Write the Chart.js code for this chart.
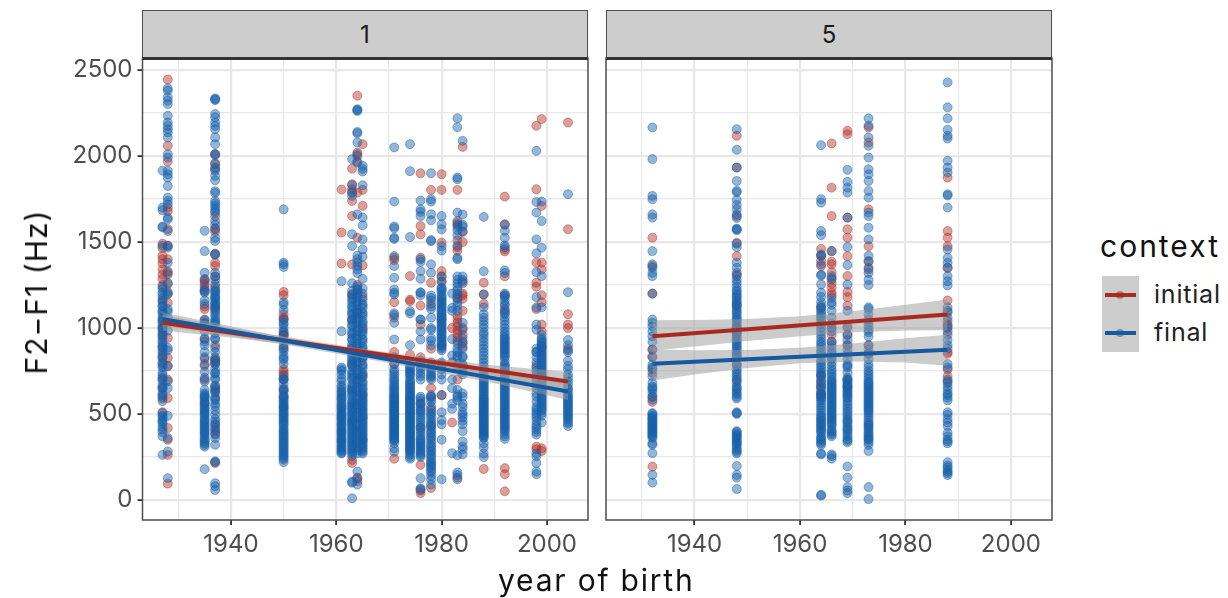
<!DOCTYPE html>
<html>
<head>
<meta charset="utf-8">
<script src="https://cdn.jsdelivr.net/npm/chart.js@4"></script>
<style>
body{margin:0;background:#fff;font-family:Inter,sans-serif;}
#page{position:relative;width:1228px;height:598px;overflow:hidden;}
canvas{position:absolute;top:0;}
.strip{position:absolute;top:10px;height:46px;line-height:47px;background:#cdcdcd;border:1.5px solid #4d4d4d;border-bottom:3px solid #333;box-sizing:content-box;text-align:center;font-size:24px;color:#1a1a1a;}
.txt{position:absolute;white-space:nowrap;}
.title{font-size:30px;color:#111;}
.key{position:absolute;left:1102px;width:37px;height:38px;background:#cdcdcd;}
.key i{position:absolute;left:3px;right:3px;top:17px;height:4px;}
.key b{position:absolute;left:14px;top:15px;width:8px;height:8px;border-radius:50%;opacity:.5;}
</style>
</head>
<body>
<div id="page">
  <canvas id="panel1" width="596" height="598" style="left:0"></canvas>
  <canvas id="panel5" width="460" height="598" style="left:600px"></canvas>
  <div class="strip" style="left:142px;width:444px">1</div>
  <div class="strip" style="left:606px;width:444px">5</div>
  <div class="txt title" style="left:498px;top:562px;letter-spacing:1.8px">year of birth</div>
  <div class="txt title" style="left:36px;top:292px;letter-spacing:1px;transform:translate(-50%,-50%) rotate(-90deg)">F2&minus;F1 (Hz)</div>
  <div class="txt title" style="left:1100px;top:228px;letter-spacing:2px">context</div>
  <div class="key" style="top:276px"><i style="background:#a82a1e"></i><b style="background:#a82a1e"></b></div>
  <div class="key" style="top:314px"><i style="background:#15599f"></i><b style="background:#15599f"></b></div>
  <div class="txt" style="left:1154px;top:279px;font-size:25px;letter-spacing:.8px;color:#222">initial</div>
  <div class="txt" style="left:1154px;top:317px;font-size:25px;letter-spacing:.8px;color:#222">final</div>
</div>
<script>
//colori
const RED='178,48,36';
const BLUE='21,96,170';
const FONT='Inter';

//PANEL 1 - anni e valori (Hz)
const p1Years=[1927,1928,1935,1937,1950,1961,1963,1964,1965,1971,1974,1976,1978,1980,1982,1983,1984,1988,1992,1998,1999,2004];

const p1Initial=[
 [1490,1465,1420,1400,1375,1340,1310,1285,1250,1160,1035,1000,955,890,830,800,705,650,590,510],
 [2445,2060,1968,1700,1680,1575,1480,1400,1330,1310,1255,1200,1146,942,826,777,700,593,418,350,262,95],
 [1285,1270,1255,1240,1215,1125,1110,1045,1010,935,820,780,700,560],
 [2012,1960,1925,1650,1580,1560,1430,1380,1360,1300,1240,1120,900,820,810,790,650,625,440,410,385,215],
 [1210,1190,1080,1060,1050,975,960,955,880,760,745,730,700,640,600,540],
 [1805,1555,1375],
 [1927,1836,1807,1787,1739,1651,1370,1195,1050,880,790,640,455,233,215],
 [2351,2020,2000,1968,1787,1525,1250,1090,860,700,560,400,330,130,110],
 [2069,1803,1710,1364,1180,1000,830,720,610,480,350],
 [1408,1395,1150,1060,860,790,240],
 [1302,1165,1156,845],
 [1900,1593,1544,1408,1130,1020,830,560,420,204,55,40],
 [1803,1263,1140,880,780,650,600,530,430,70],
 [1894,1803,1496,1331,1300,1270,1050,900,610],
 [1000,800,450],
 [1803,1622,1600,1510,1470,1450,1190,1170,1070,1050,1030,1010,985,965,945,925,700,130],
 [2053,1560,1500,1270,1200,1190,1170,1100,1000,960,920,890],
 [1263,1195,1140,180],
 [1764,1603,1457,1445,1300,1190,1110,185,150,50],
 [2176,1807,1380,1263,1240,1110,780,310,295],
 [2215,1710,1380,1340,1191,1150,1020,980,890,300,285],
 [2195,1574,1080,1020,1000,880]
];

const p1Final=[
 [1915,1700,1685,1590,1585,1478,1240,1225,1205,1190,1170,1150,1125,1100,1080,1060,1040,1015,990,965,945,915,885,855,825,795,770,710,695,670,645,620,600,575,505,490,465,445,425,395,370,262],
 [2393,2380,2341,2322,2302,2234,2195,2176,2156,2137,2108,2011,1991,1914,1894,1875,1826,1758,1739,1719,1642,1632,1564,1477,1467,1379,1321,1263,1210,1195,1110,1095,1060,985,885,870,780,690,650,490,360,282,127],
 [1565,1447,1321,1280,1225,1205,1160,1140,1050,1030,980,940,900,860,830,790,745,710,690,640,610,602,585,565,550,530,510,490,475,455,435,415,395,375,350,330,310,179],
 [2335,2330,2325,2244,2225,2195,2175,2156,2108,2069,2011,2005,1952,1933,1914,1885,1859,1795,1785,1739,1725,1710,1695,1680,1670,1622,1600,1574,1525,1506,1432,1425,1321,1300,1280,1224,1210,1195,1180,1165,1150,1135,1120,1100,1085,1070,1050,1030,970,935,885,830,810,790,760,735,710,665,660,630,590,580,545,495,455,420,380,321,225,220,97,80,58],
 [1690,1380,1370,1355,1150,1135,1105,1050,1030,1000,960,930,900,865,840,815,790,720,700,675,650,630,610,590,570,550,530,510,490,470,450,430,415,395,375,355,335,315,295,275,255,235,220],
 [1272,981,770,750,730,690,665,640,620,600,585,570,550,535,515,500,485,470,450,435,415,400,385,365,350,335,315,300,285,270],
 [1982,1830,1790,1768,1545,1477,1260,1195,1180,1150,1120,1100,1075,1040,1010,985,960,930,905,880,855,825,800,775,750,725,700,675,650,625,600,580,560,540,520,500,480,460,440,420,400,380,360,340,320,300,280,107,100,10],
 [2272,2268,2262,2140,2133,2079,2011,1962,1661,1420,1400,1380,1360,1340,1320,1240,1220,1200,1180,1155,1130,1105,1080,1055,1030,1005,980,955,930,905,880,855,830,805,780,755,730,705,680,655,630,605,580,555,530,505,480,455,430,405,380,355,330,305,272,165,125,90],
 [1943,1925,1910,1830,1642,1597,1515,1457,1414,1286,1230,1200,1165,1140,1115,1090,1065,1040,1015,990,965,940,915,890,865,840,815,790,765,740,715,690,665,640,615,590,570,550,530,510,490,470,450,430,410,390,370,350,330,310,290,270],
 [2050,1735,1590,1580,1525,1518,1418,1360,1292,1224,1195,1205,1085,1075,1030,933,830,790,760,730,700,675,655,635,615,600,585,570,555,540,525,510,495,480,465,450,435,420,405,390,375,360,345,330,300,280],
 [2069,1912,1529,1098,1085,900,780,760,740,720,700,680,660,645,630,615,600,585,570,555,540,525,510,495,480,465,450,435,420,405,390,375,360,345,330,315,300,285,265,240],
 [1741,1690,1675,1651,1400,1385,1331,1286,1208,1205,1190,1049,933,810,790,755,720,700,590,560,530,510,480,450,420,390,360,340,320,300,280,260,127,68,62],
 [1900,1748,1735,1661,1626,1511,1505,1370,1321,1189,1175,1160,1125,1110,990,925,800,770,745,720,700,600,570,520,495,465,440,410,385,360,330,305,280,255,225,205,185,160,140,120,90],
 [1651,1603,1574,1476,1450,1300,1270,1235,1220,1190,1170,1150,1130,1110,1090,1070,1050,1030,1010,990,970,950,930,910,890,870,790,760,730,700,610,510,465,440,350,120],
 [1200,1117,1100,935,840,700,650,560,530,272],
 [2220,2168,1875,1865,1671,1610,1590,1570,1540,1480,1408,1400,1300,1280,1260,1240,1220,1200,1175,1150,1130,1100,880,840,775,610,580,260,160,145,120],
 [2088,1660,1600,1590,1560,1300,1280,1260,1030,990,940,910,880,835,790,770,730,600,540,495,480,440,400,340,310,295,265],
 [1646,1330,1195,1120,1080,1040,1000,975,940,900,880,840,800,760,730,700,680,660,640,620,600,585,570,555,540,525,510,495,480,465,450,435,420,405,390,375,360,330,305,270,250],
 [1600,1565,1525,1480,1470,1335,1320,1200,1180,1160,1130,1100,1080,1040,1020,980,950,930,910,890,870,850,830,790,770,750,730,700,680,660,640,620,600,580,560,540,520,500,480,460,440,420,400,370,355],
 [2030,1733,1671,1515,1434,1325,1180,1120,1020,990,880,860,770,730,690,650,600,540,510,480,440,410,380,270,255,215,165,150],
 [1735,1622,1467,1302,1120,940,920,900,880,860,840,820,800,780,760,740,720,700,680,660,640,620,600,580,560,540,520,490,450],
 [1778,1208,930,900,870,780,730,690,650,625,600,590,570,550,530,510,490,470,445,430]
];

//punti sovrapposti nelle colonne piu' dense
const p1FinalDense=[
 [1130,1095,1050,1005,975,930,900,870,840,780,740,725,655,610,480,455,410],
 [],
 [1215,1025,920,620,595,570,540,520,500,465,445,425,405,385,360,340,320],
 [1255,1215,1175,1140,1110,1040,1020,940,860,800,740,700,640,600,560,520,470,435,400,360],
 [1020,980,885,825,705,640,600,580,560,540,520,500,480,460,440,405,385,365,345,325,305,285,265,245],
 [760,705,655,630,610,590,560,540,525,505,490,475,460,440,425,405,390,375,355,340,325,310,290,275],
 [1215,1165,1130,1085,1050,1020,970,940,890,840,810,785,735,710,660,635,610,570,550,530,510,490,470,450,430,410,390,370,350,330,310,290,270,255],
 [1225,1190,1140,1090,1040,990,940,890,840,790,740,690,640,590,540,490,440,390,340,290],
 [1130,1080,1030,980,930,880,830,780,730,680,650,625,600,580,560,540,520,500,480,460,440,420,400,380,360,340,320,300,280],
 [745,715,690,665,645,625,605,590,575,560,545,530,515,500,485,470,455,440,425,410,395,380,365,350],
 [770,750,730,690,670,650,625,605,590,575,560,545,530,515,500,485,470,455,440,425,410,395,380,365,350,335,320,305,290,275,250],
 [1050,980,800,770,735,600,575,545,520,495,465,435,405,375,350,330,310,290,270,250],
 [1060,1000,940,900,780,760,730,710,610,585,545,505,480,450,425,395,370,345,315,290,265,240,215,195,170],
 [1230,1210,1180,1160,1140,1120,1100,1080,1060,1040,1020,1000,980,960,940,920,900,880,800,775],
 [],
 [910,860,830,790,640,600],
 [830,780,745,620,560,510,460],
 [1060,1020,960,920,860,820,780,745,715,690,670,650,630,610,590,575,560,545,530,515,500,485,470,455,440,425,410,395,380,365],
 [1190,1140,1090,1060,1000,965,940,920,900,880,860,840,810,780,760,740,715,690,670,650,630,610,590,570,550,530,510,490,470,450,430,410,385],
 [860,830,800,750,710,670,620,570,525,495,460,425,395],
 [960,930,910,890,870,850,830,810,790,770,750,730,710,690,670,650,630,610,590,570,550,530,505],
 [860,810,760,710,670,640,610,580,560,540,520,500,480,455]
];

//linee di regressione panel 1
const p1LineYears=[1927,2004];
const p1LineInitial=[1030,689];
const p1LineFinal=[1053,631];

//bande di confidenza panel 1
const p1BandYears=[1927,1940,1950,1960,1970,1980,1990,2004];
const p1InitialUpper=[1075,1000,950,902,858,818,782,745];
const p1InitialLower=[985,944,906,866,822,774,722,633];
const p1FinalUpper=[1090,1010,948,892,838,786,738,680];
const p1FinalLower=[1015,954,905,852,796,738,678,582];

//PANEL 5
const p5Years=[1932,1948,1964,1966,1969,1973,1988];

const p5Initial=[
 [1525,1360,1200,875,835,740,600,570,194],
 [2118,1933,1651,1496,1418,1310,1130,1000,970,790,700],
 [1460,1420,1390,1360,1120,720,690,660,620,600],
 [2073,1816,1651,1447,1385,1370,1325,1290,1260,1235,1205,1190,1000,960,920],
 [2147,2127,1642,1574,1525,1418,1302,1210,1180,1130,1010,960,900,700,660],
 [2166,2079,1690,1476,1385,1340,900,850],
 [1875,1564,1525,1476,1350,1160,1100,1040,1020,980,860,850,760,720,690]
];

const p5Final=[
 [2166,1982,1768,1749,1661,1642,1447,1370,1350,1321,1302,1200,1049,1030,952,874,787,760,680,651,622,583,505,490,475,460,445,430,415,400,385,369,321,272,146,101],
 [2156,2036,1933,1855,1797,1790,1745,1715,1690,1660,1640,1578,1574,1568,1490,1470,1380,1350,1320,1300,1280,1260,1240,1220,1195,1175,1150,1130,1100,1075,1050,1025,1000,975,950,925,900,875,850,830,790,760,730,695,660,640,615,590,510,500,400,385,370,350,335,315,290,270,198,146,130,64],
 [2063,1749,1729,1564,1540,1428,1420,1370,1310,1305,1253,1205,1130,1100,1070,1040,1000,960,920,890,870,840,800,770,740,720,680,650,620,600,580,550,520,490,470,450,430,410,390,360,340,320,270,265,30,25],
 [1447,1302,1282,1175,1135,1025,980,920,880,850,830,800,760,730,700,680,660,640,620,600,580,560,540,520,500,480,460,440,400,390,370,265,255,240],
 [1920,1850,1816,1787,1642,1471,1366,1253,1100,960,900,850,790,770,710,690,670,650,630,610,590,560,530,500,470,450,420,400,370,345,195,130,75,55,40],
 [2219,2176,2108,2059,1991,1923,1894,1855,1797,1758,1671,1651,1583,1515,1420,1390,1350,1320,1280,1250,1120,1110,1050,1010,975,900,850,790,750,720,690,670,650,630,610,590,570,550,530,510,480,450,430,410,385,365,350,320,285,75,5],
 [2428,2283,2219,2153,2118,2102,1972,1933,1904,1778,1770,1700,1457,1408,1379,1350,1302,1272,1247,1120,1090,1060,880,790,700,660,620,595,580,510,495,450,390,350,340,220,200,175,155]
];

const p5FinalDense=[
 [1010,980,920,830,770,720,660,640,600,500,482,468,452,438,422,408,392,377,360,330],
 [1210,1185,1160,1140,1115,1090,1060,1040,1010,985,960,935,910,885,860,840,780,745,715,680,650,625,600,505,395,375,360,340,325,300,280],
 [1180,1150,1115,1085,1055,1020,980,940,905,855,815,785,755,730,700,665,635,610,590,565,535,505,480,460,440,420,400,370,350,330],
 [1150,1100,1060,1000,900,860,820,780,745,715,690,670,650,630,610,590,570,550,530,510,490,470,450,430,410,380],
 [1000,930,875,820,780,740,700,680,660,640,620,600,575,545,515,485,460,435,410,385,355,335],
 [1080,1030,990,950,875,820,770,735,705,680,660,640,620,600,580,560,540,520,495,465,440,420,395,375,355,335],
 [1010,1000,960,930,900,770,680,640,610,470,430,370,330,190,165,145]
];

const p5LineYears=[1932,1988];
const p5LineInitial=[952,1078];
const p5LineFinal=[792,874];

const p5BandYears=[1932,1940,1950,1960,1970,1980,1988];
const p5InitialUpper=[1045,1047,1053,1068,1097,1135,1165];
const p5InitialLower=[868,893,925,952,975,985,987];
const p5FinalUpper=[875,870,872,885,910,940,961];
const p5FinalLower=[695,730,768,795,805,800,781];

//assi
const xTicks=[1940,1960,1980,2000];
const yTicks=[0,500,1000,1500,2000,2500];

//trasformo anni + valori in punti {x,y}
function toPoints(years,values){
    let pts=[];
    for(let i=0;i<years.length;i++){
        for(let j=0;j<values[i].length;j++){
            pts.push({x:years[i],y:values[i][j]});
        }
    }
    return pts;
}

function zip(xs,ys){
    return xs.map((x,i)=>({x:x,y:ys[i]}));
}

//bordo del pannello
const panelBorder={
    id:'panelBorder',
    afterDraw(chart){
        const a=chart.chartArea, c=chart.ctx;
        c.save();
        c.strokeStyle='#4d4d4d';
        c.lineWidth=1.5;
        c.strokeRect(a.left,a.top,a.right-a.left,a.bottom-a.top);
        c.restore();
    }
};

function pointSet(label,rgb,pts,order){
    return {label:label,data:pts,order:order,pointRadius:4.5,pointBorderWidth:1,
        backgroundColor:'rgba('+rgb+',0.46)',borderColor:'rgba('+rgb+',0.46)'};
}
function bandSet(xs,ys,fill,order){
    return {data:zip(xs,ys),order:order,showLine:true,pointRadius:0,borderWidth:0,
        borderColor:'transparent',fill:fill,backgroundColor:'rgba(153,153,153,0.5)'};
}
function lineSet(label,color,xs,ys,order){
    return {label:label,data:zip(xs,ys),order:order,showLine:true,pointRadius:0,
        borderColor:color,borderWidth:4,fill:false};
}

function drawPanel(id,cfg){
    new Chart(document.getElementById(id),{
        type:'scatter',
        data:{datasets:[
            pointSet('initial',RED,toPoints(cfg.years,cfg.initial),6),
            pointSet('final',BLUE,toPoints(cfg.years,cfg.final).concat(toPoints(cfg.years,cfg.finalDense)),5),
            bandSet(cfg.bandYears,cfg.initialUpper,'+1',4),
            bandSet(cfg.bandYears,cfg.initialLower,false,4),
            bandSet(cfg.bandYears,cfg.finalUpper,'+1',3),
            bandSet(cfg.bandYears,cfg.finalLower,false,3),
            lineSet('initial fit','#a82a1e',cfg.lineYears,cfg.lineInitial,2),
            lineSet('final fit','#15599f',cfg.lineYears,cfg.lineFinal,1)
        ]},
        options:{
            responsive:false,
            animation:false,
            layout:{padding:{top:58,right:8,left:0,bottom:0}},
            plugins:{legend:{display:false},tooltip:{enabled:false}},
            scales:{
                x:{
                    type:'linear',min:1923.2,max:2007.8,
                    afterFit:s=>{s.height=78;},
                    border:{display:false},
                    grid:{
                        color:'#e8e8e8',
                        lineWidth:c=>xTicks.includes(c.tick.value)?2.2:1.2,
                        tickColor:c=>xTicks.includes(c.tick.value)?'#333':'transparent',
                        tickWidth:1.8,tickLength:5
                    },
                    ticks:{
                        stepSize:10,includeBounds:false,autoSkip:false,maxRotation:0,padding:5,
                        color:'#4d4d4d',font:{family:FONT,size:24},
                        callback:v=>xTicks.includes(v)?String(v):''
                    }
                },
                y:{
                    min:-116.5,max:2570,
                    afterFit:s=>{s.width=cfg.yWidth;},
                    border:{display:false},
                    grid:{
                        color:'#e8e8e8',
                        lineWidth:c=>yTicks.includes(c.tick.value)?2.2:1.2,
                        tickColor:c=>cfg.showY&&yTicks.includes(c.tick.value)?'#333':'transparent',
                        tickWidth:1.8,tickLength:cfg.showY?5:0,drawTicks:cfg.showY
                    },
                    ticks:{
                        display:cfg.showY,stepSize:250,includeBounds:false,autoSkip:false,padding:5,
                        color:'#4d4d4d',font:{family:FONT,size:24},
                        callback:v=>yTicks.includes(v)?String(v):''
                    }
                }
            }
        },
        plugins:[panelBorder]
    });
}

drawPanel('panel1',{years:p1Years,initial:p1Initial,final:p1Final,finalDense:p1FinalDense,
    lineYears:p1LineYears,lineInitial:p1LineInitial,lineFinal:p1LineFinal,
    bandYears:p1BandYears,initialUpper:p1InitialUpper,initialLower:p1InitialLower,
    finalUpper:p1FinalUpper,finalLower:p1FinalLower,yWidth:142.5,showY:true});

drawPanel('panel5',{years:p5Years,initial:p5Initial,final:p5Final,finalDense:p5FinalDense,
    lineYears:p5LineYears,lineInitial:p5LineInitial,lineFinal:p5LineFinal,
    bandYears:p5BandYears,initialUpper:p5InitialUpper,initialLower:p5InitialLower,
    finalUpper:p5FinalUpper,finalLower:p5FinalLower,yWidth:6,showY:false});
</script>
</body>
</html>
